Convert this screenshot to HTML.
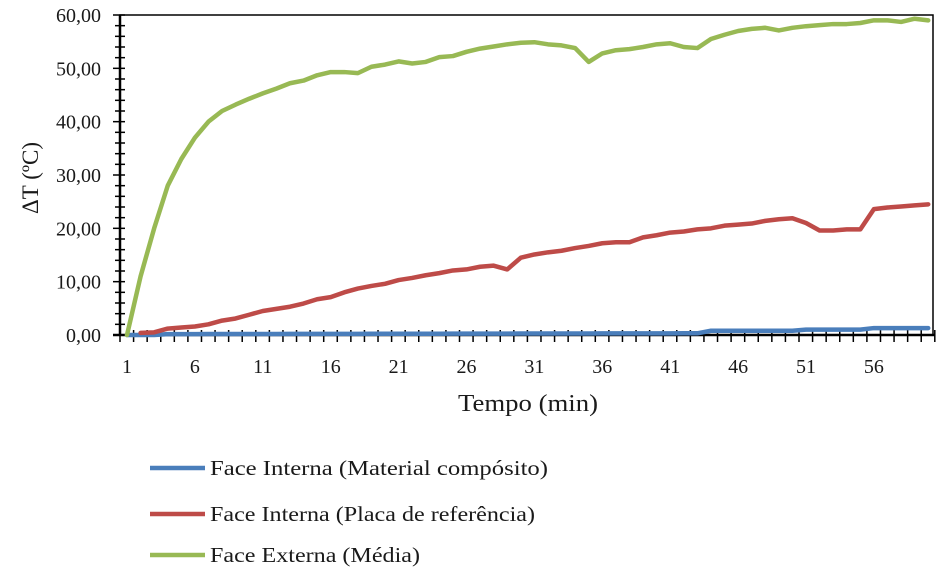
<!DOCTYPE html>
<html><head><style>body{margin:0;background:#fff}</style></head><body>
<svg id="s" width="946" height="571" xmlns="http://www.w3.org/2000/svg" font-family="Liberation Serif, serif" fill="#1a1a1a"></svg>
<script>
const s=document.getElementById('s');
const X=i=>127+(i-1)*13.58, Y=v=>335-v*320/60;
let h='';
h+='<rect x="120" y="15" width="813" height="320" fill="none" stroke="#000" stroke-width="1.5"/>';
h+='<line x1="120" y1="15" x2="120" y2="335" stroke="#000" stroke-width="2.5"/><line x1="113" y1="335" x2="935" y2="335" stroke="#000" stroke-width="2.5"/>';
for(let v=0;v<=60;v+=2){const y=Y(v);h+=`<line x1="${v%10?115:113}" y1="${y}" x2="125" y2="${y}" stroke="#000" stroke-width="1.5"/>`;}
for(let v=0;v<=60;v+=10)h+=`<text x="101" y="${Y(v)+7}" font-size="20" text-anchor="end">${v},00</text>`;
for(let k=0;k<=60;k++){const x=120+k*13.58;h+=`<line x1="${x}" y1="330" x2="${x}" y2="342" stroke="#000" stroke-width="1.5"/>`;}
for(let i=1;i<=56;i+=5)h+=`<text x="${X(i)}" y="373" font-size="20" text-anchor="middle">${i}</text>`;
h+='<text x="458" y="411" font-size="24" textLength="140" lengthAdjust="spacingAndGlyphs">Tempo (min)</text>';
h+='<text transform="translate(38,178) rotate(-90)" font-size="23" text-anchor="middle">ΔT (ºC)</text>';
const g=[0,11,20,28,33,37,40,42,43.2,44.3,45.3,46.2,47.2,47.7,48.7,49.3,49.3,49.1,50.3,50.7,51.3,50.9,51.2,52.1,52.3,53.1,53.7,54.1,54.5,54.8,54.9,54.5,54.3,53.8,51.2,52.8,53.4,53.6,54,54.5,54.7,54,53.8,55.5,56.3,57,57.4,57.6,57.1,57.6,57.9,58.1,58.3,58.3,58.5,59,59,58.7,59.3,59];
const r=[0.3,0.4,0.5,1.2,1.4,1.6,2,2.7,3.1,3.8,4.5,4.9,5.3,5.9,6.7,7.1,8,8.7,9.2,9.6,10.3,10.7,11.2,11.6,12.1,12.3,12.8,13,12.3,14.5,15.1,15.5,15.8,16.3,16.7,17.2,17.4,17.4,18.3,18.7,19.2,19.4,19.8,20,20.5,20.7,20.9,21.4,21.7,21.9,21,19.6,19.6,19.8,19.8,23.6,23.9,24.1,24.3,24.5];
const b=[];for(let i=1;i<=60;i++)b.push(i<4?0:i<44?0.15+i*0.004:i<51?0.8:i<56?1.0:1.3);
const pl=(d,c,st)=>`<polyline points="${d.map((v,i)=>X(i+(st||1))+','+Y(v)).join(' ')}" fill="none" stroke="${c}" stroke-width="4.5" stroke-linejoin="round" stroke-linecap="round"/>`;
h+=pl(b,'#4a7ebb',1)+pl(r.slice(1),'#be4b48',2)+pl(g,'#98b954',1);
[['#4a7ebb','Face Interna (Material compósito)',468,338],['#be4b48','Face Interna (Placa de referência)',514,325],['#98b954','Face Externa (Média)',555,210]].forEach(([c,t,y,w])=>{h+=`<line x1="150" y1="${y}" x2="205" y2="${y}" stroke="${c}" stroke-width="4.5"/><text x="210" y="${y+7}" font-size="21" textLength="${w}" lengthAdjust="spacingAndGlyphs">${t}</text>`;});
s.innerHTML=h;
</script>
</body></html>
